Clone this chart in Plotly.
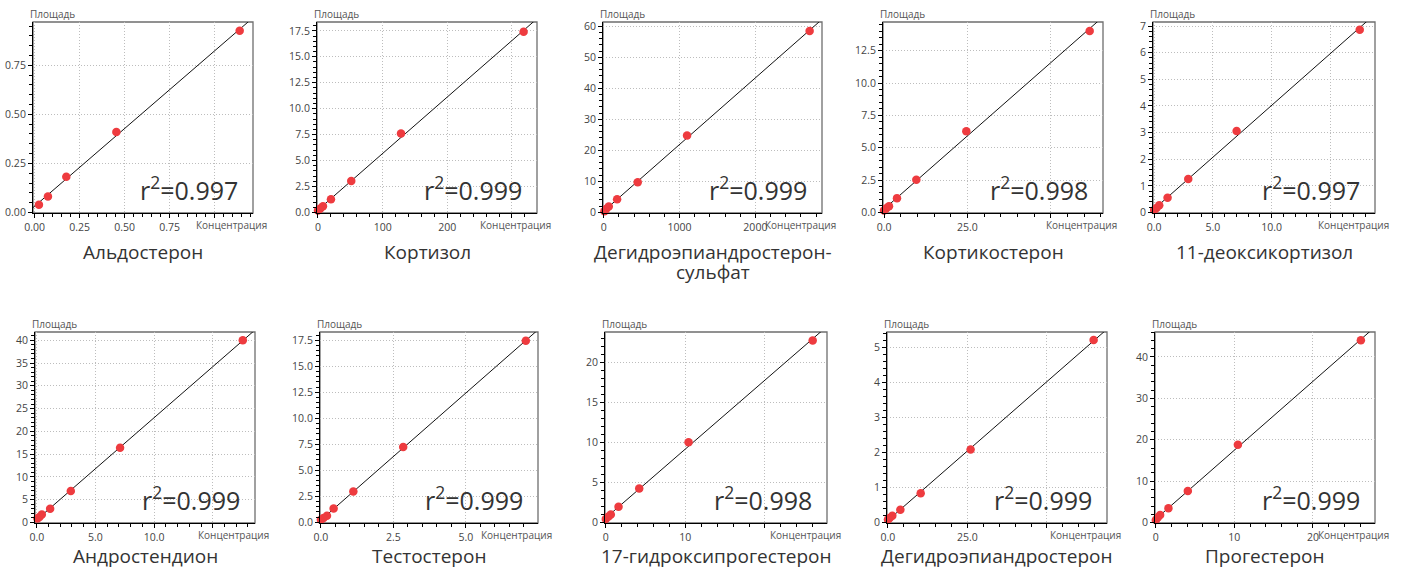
import numpy as np
import plotly.graph_objects as go

# ---------------- data ----------------
names = ["Альдостерон", "Кортизол", "Дегидроэпиандростерон-<br>сульфат", "Кортикостерон",
         "11-деоксикортизол", "Андростендион", "Тестостерон", "17-гидроксипрогестерон",
         "Дегидроэпиандростерон", "Прогестерон"]
r2_values = ["0.997", "0.999", "0.999", "0.998", "0.997", "0.999", "0.999", "0.998", "0.999", "0.999"]

aldo_x = [0.024, 0.074, 0.176, 0.454, 1.139]
aldo_y = [0.039, 0.081, 0.182, 0.410, 0.926]
cort_x = [0, 3.6, 7.7, 20.1, 51.5, 128.4, 318]
cort_y = [0.19, 0.38, 0.60, 1.27, 3.02, 7.6, 17.4]
dheas_x = [9, 31, 66, 176, 448, 1099, 2716]
dheas_y = [0.4, 1.07, 1.9, 4.2, 9.7, 24.8, 58.5]
corticost_x = [0, 0.7, 1.5, 3.9, 9.7, 24.7, 61.7]
corticost_y = [0.15, 0.31, 0.48, 1.10, 2.53, 6.28, 14.03]
deoxy_x = [0, 0.2, 0.43, 1.14, 2.9, 7.02, 17.5]
deoxy_y = [0.09, 0.17, 0.27, 0.55, 1.26, 3.06, 6.86]
andro_x = [0.06, 0.23, 0.43, 1.14, 2.9, 7.1, 17.56]
andro_y = [0.87, 1.23, 1.74, 3.04, 6.9, 16.4, 40.0]
testo_x = [0, 0.09, 0.21, 0.44, 1.12, 2.84, 7.07]
testo_y = [0.25, 0.41, 0.64, 1.34, 2.96, 7.25, 17.45]
ohp_x = [0, 0.34, 0.63, 1.6, 4.2, 10.4, 26.0]
ohp_y = [0.41, 0.70, 0.95, 1.94, 4.2, 10.0, 22.7]
dhea_x = [0, 0.53, 1.37, 3.9, 10.3, 26.0, 64.7]
dhea_y = [0.08, 0.12, 0.19, 0.36, 0.83, 2.08, 5.21]
prog_x = [0, 0.25, 0.55, 1.61, 4.08, 10.45, 26.1]
prog_y = [0.64, 1.2, 1.84, 3.44, 7.6, 18.8, 44.0]

xs = [aldo_x, cort_x, dheas_x, corticost_x, deoxy_x, andro_x, testo_x, ohp_x, dhea_x, prog_x]
ys = [aldo_y, cort_y, dheas_y, corticost_y, deoxy_y, andro_y, testo_y, ohp_y, dhea_y, prog_y]

# axis ranges
x_ranges = [[-0.009, 1.213], [-1.5, 338.7], [-10, 2879], [-0.3, 65.7], [-0.1, 18.8],
            [-0.15, 18.6], [-0.03, 7.49], [-0.1, 27.8], [-0.3, 68.9], [-0.1, 27.9]]
y_ranges = [[-0.003, 0.971], [-0.06, 18.35], [-0.2, 61.4], [-0.05, 14.72], [-0.02, 7.15],
            [-0.1, 41.8], [-0.06, 18.3], [-0.1, 23.76], [-0.02, 5.44], [-0.1, 46.0]]

# tick values / labels
x_tickvals = [[0, 0.25, 0.5, 0.75, 1.0], [0, 100, 200, 300], [0, 1000, 2000], [0, 25, 50],
              [0, 5, 10, 15], [0, 5, 10, 15], [0, 2.5, 5.0, 7.5], [0, 10, 20], [0, 25, 50], [0, 10, 20]]
x_ticktext = [["0.00", "0.25", "0.50", "0.75", ""], ["0", "100", "200", ""], ["0", "1000", "2000"],
              ["0.0", "25.0", ""], ["0.0", "5.0", "10.0", ""], ["0.0", "5.0", "10.0", ""],
              ["0.0", "2.5", "5.0", ""], ["0", "10", ""], ["0.0", "25.0", ""], ["0", "10", "20"]]
y_tickvals = [[0, 0.25, 0.5, 0.75], [0, 2.5, 5, 7.5, 10, 12.5, 15, 17.5], [0, 10, 20, 30, 40, 50, 60],
              [0, 2.5, 5, 7.5, 10, 12.5], [0, 1, 2, 3, 4, 5, 6, 7], [0, 5, 10, 15, 20, 25, 30, 35, 40],
              [0, 2.5, 5, 7.5, 10, 12.5, 15, 17.5], [0, 5, 10, 15, 20], [0, 1, 2, 3, 4, 5], [0, 10, 20, 30, 40]]
y_ticktext = [["0.00", "0.25", "0.50", "0.75"],
              ["0.0", "2.5", "5.0", "7.5", "10.0", "12.5", "15.0", "17.5"],
              ["0", "10", "20", "30", "40", "50", "60"],
              ["0.0", "2.5", "5.0", "7.5", "10.0", "12.5"],
              ["0", "1", "2", "3", "4", "5", "6", "7"],
              ["0", "5", "10", "15", "20", "25", "30", "35", "40"],
              ["0.0", "2.5", "5.0", "7.5", "10.0", "12.5", "15.0", "17.5"],
              ["0", "5", "10", "15", "20"],
              ["0", "1", "2", "3", "4", "5"],
              ["0", "10", "20", "30", "40"]]
x_minor = [0.05, 20, 200, 5, 1, 1, 0.5, 2, 5, 2]
y_minor = [0.05, 0.5, 2, 0.5, 0.2, 1, 0.5, 1, 0.2, 2]

# ---------------- layout geometry (pixels) ----------------
W, H = 1402, 569
row_top = [22, 332]
row_bot = [213, 523]
col_left = [[33, 317, 603, 883, 1153], [35, 320, 605, 887, 1155]]
col_right = [[253, 537, 822, 1103, 1375], [255, 538, 827, 1107, 1375]]
title_y = [252, 556]
title_line_gap = 20

FONT = "Open Sans"
RED = "#ee3b3f"


def fx(p):
    return p / W


def fy(p):
    return 1 - p / H


fig = go.Figure()
layout = dict(width=W, height=H, margin=dict(l=0, r=0, t=0, b=0, autoexpand=False),
              plot_bgcolor="white", paper_bgcolor="white", showlegend=False,
              font=dict(family=FONT, color="#333"))
annotations = []
shapes = []

for i in range(10):
    r, c = divmod(i, 5)
    k = "" if i == 0 else str(i + 1)
    xa, ya = "x" + k, "y" + k
    x = np.array(xs[i], dtype=float)
    y = np.array(ys[i], dtype=float)
    slope, icpt = np.polyfit(x, y, 1)
    lx = np.array(x_ranges[i])
    fig.add_trace(go.Scatter(x=lx, y=slope * lx + icpt, mode="lines", xaxis=xa, yaxis=ya,
                             line=dict(color="#111", width=1), hoverinfo="skip"))
    fig.add_trace(go.Scatter(x=x, y=y, mode="markers", xaxis=xa, yaxis=ya,
                             marker=dict(color=RED, size=8.5), cliponaxis=False))

    common = dict(showline=True, linecolor="black", linewidth=1, ticks="outside", ticklen=4,
                  tickwidth=1, tickcolor="black", showgrid=True, gridcolor="#bdbdbd",
                  griddash="1px,2px", gridwidth=1, zeroline=False, tickmode="array",
                  automargin=False,
                  tickfont=dict(family=FONT, size=10.5, color="#444"))
    layout["xaxis" + k] = dict(common, domain=[fx(col_left[r][c]), fx(col_right[r][c])],
                               anchor=ya, range=x_ranges[i], tickvals=x_tickvals[i],
                               ticktext=x_ticktext[i],
                               minor=dict(ticks="outside", ticklen=3, tickcolor="black",
                                          tick0=0, dtick=x_minor[i], showgrid=False))
    layout["yaxis" + k] = dict(common, domain=[fy(row_bot[r]), fy(row_top[r])],
                               anchor=xa, range=y_ranges[i], tickvals=y_tickvals[i],
                               ticktext=y_ticktext[i],
                               minor=dict(ticks="outside", ticklen=3, tickcolor="black",
                                          tick0=0, dtick=y_minor[i], showgrid=False))
    # gray frame (top / right)
    shapes.append(dict(type="rect", xref=xa + " domain", yref=ya + " domain", x0=0, x1=1,
                       y0=0, y1=1, line=dict(color="#6e6e6e", width=1.3), layer="below"))
    # axis titles
    annotations.append(dict(text="Площадь", xref="paper", yref="paper",
                            x=fx(col_left[r][c] - 5), y=fy(row_top[r] - 8), xanchor="left",
                            yanchor="middle", showarrow=False,
                            font=dict(family=FONT, size=10, color="#555")))
    annotations.append(dict(text="Концентрация", xref="paper", yref="paper",
                            x=fx(col_right[r][c] + 16), y=fy(row_bot[r] + 12), xanchor="right",
                            yanchor="middle", showarrow=False,
                            font=dict(family=FONT, size=10, color="#555")))
    # r^2 text
    annotations.append(dict(text="r<sup>2</sup>=" + r2_values[i], xref=xa + " domain",
                            yref=ya + " domain", x=0.94, y=0.02, xanchor="right",
                            yanchor="bottom", showarrow=False,
                            font=dict(family=FONT, size=25, color="#333")))
    # panel title (each line placed separately for tight line spacing)
    for j, line in enumerate(names[i].split("<br>")):
        annotations.append(dict(text=line, xref="paper", yref="paper",
                                x=fx((col_left[r][c] + col_right[r][c]) / 2),
                                y=fy(title_y[r] + j * title_line_gap), xanchor="center",
                                yanchor="middle", showarrow=False,
                                font=dict(family=FONT, size=19, color="#333")))

layout["annotations"] = annotations
layout["shapes"] = shapes
fig.update_layout(**layout)
fig.write_html("out.html", config={"displayModeBar": False},
               post_script="document.body.style.margin='0px';")
